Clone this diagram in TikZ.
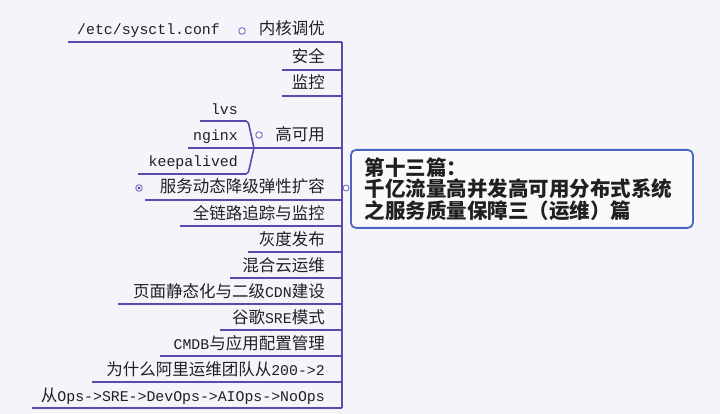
\documentclass[tikz,border=0pt]{standalone}
\usepackage{fontspec}
\setmainfont{Noto Sans CJK SC}
\setmonofont[Scale=0.9]{Liberation Mono}
\usetikzlibrary{positioning}
\definecolor{linepurple}{HTML}{5A4AAE}
\definecolor{markpurple}{HTML}{8272C4}
\definecolor{boxblue}{HTML}{4A68C0}
\definecolor{bgcol}{HTML}{F4F4FA}
\definecolor{txtcol}{HTML}{202020}
\newcommand{\asc}[1]{{\ttfamily #1}}

\begin{document}
\begin{tikzpicture}[x=1pt, y=-1pt, line join=round]
        \tikzset{
            br/.style   ={draw=linepurple, line width=1.6pt},
            lbl/.style  ={anchor=base east, inner sep=0pt, text=txtcol,
                          font=\fontsize{16.5}{18}\selectfont},
            mk/.style   ={draw=markpurple, line width=1pt, fill=white, circle,
                          inner sep=0pt, minimum size=6.5pt},
            topic/.style={draw=boxblue, line width=1.8pt, rounded corners=5pt,
                          fill=white!55!bgcol, text=txtcol, align=left,
                          font=\fontsize{20.5}{21.5}\selectfont\bfseries,
                          minimum width=342pt, minimum height=78pt,
                          text width=314pt, inner xsep=14pt}
        }
        \fill[bgcol] (0,0) rectangle (720,414);
        \useasboundingbox (0,0) rectangle (720,414);
        %% ---- Tronco ----
        \coordinate (s1)  at (342,42);
        \coordinate (s4)  at (342,148);
        \coordinate (s5)  at (342,200);
        \coordinate (s13) at (342,408);
        \draw[br, line width=2pt] (s1) -- (s13);
        %% ---- Ramas simples ----
        \foreach \i/\y/\xl/\txt in {
            2/70/282/安全,
            3/96/282/监控,
            6/226/180/全链路追踪与监控,
            7/252/248/灰度发布,
            8/278/230/混合云运维,
            9/304/118/页面静态化与二级\asc{CDN}建设,
            10/330/220/谷歌\asc{SRE}模式,
            11/356/160/\asc{CMDB}与应用配置管理,
            12/382/92/为什么阿里运维团队从\asc{200->2},
            13/408/32/从\asc{Ops->SRE->DevOps->AIOps->NoOps}}{
            \node[lbl] (t\i) at (325,\y-7) {\txt};
            \coordinate (a\i) at (\xl,\y);
            \coordinate (s\i) at (342,\y);
            \draw[br] (a\i) -- (s\i);
        }
        %% ---- 内核调优 ----
        \node[lbl] (t1) at (325,35) {内核调优};
        \node[mk]  (m1) at (242,31) {};
        \node[lbl] (c1) at (220,35) {\asc{/etc/sysctl.conf}};
        \coordinate (a1) at (68,42);
        \draw[br] (a1) -- (s1);
        %% ---- 高可用 ----
        \node[lbl] (t4) at (325,141) {高可用};
        \node[mk]  (m4) at (259,135) {};
        \node[lbl] (lvs) at (238,115) {\asc{lvs}};
        \node[lbl] (ngx) at (238,141) {\asc{nginx}};
        \node[lbl] (kpa) at (238,167) {\asc{keepalived}};
        \coordinate (ha)   at (254,148);
        \coordinate (lvsL) at (200,121);
        \coordinate (ngxL) at (188,148);
        \coordinate (kpaL) at (138,174);
        \draw[br, rounded corners=2pt] (lvsL) -- (248,121) -- (ha) -- (248,174) -- (kpaL);
        \draw[br] (ngxL) -- (ha) -- (s4);
        %% ---- 服务动态降级弹性扩容 ----
        \node[lbl] (t5) at (325,193) {服务动态降级弹性扩容};
        \node[mk]  (m5) at (139,188) {};
        \fill[linepurple] (m5) circle (1.6pt);
        \coordinate (a5) at (145,200);
        \draw[br] (a5) -- (s5);
        %% ---- Tema central ----
        \node[topic, anchor=north west] (root) at (350,149)
            {第十三篇：\\千亿流量高并发高可用分布式系统\\之服务质量保障三（运维）篇};
        \node[mk, minimum size=6pt] (mr) at (346,188) {};
    \end{tikzpicture}
\end{document}
